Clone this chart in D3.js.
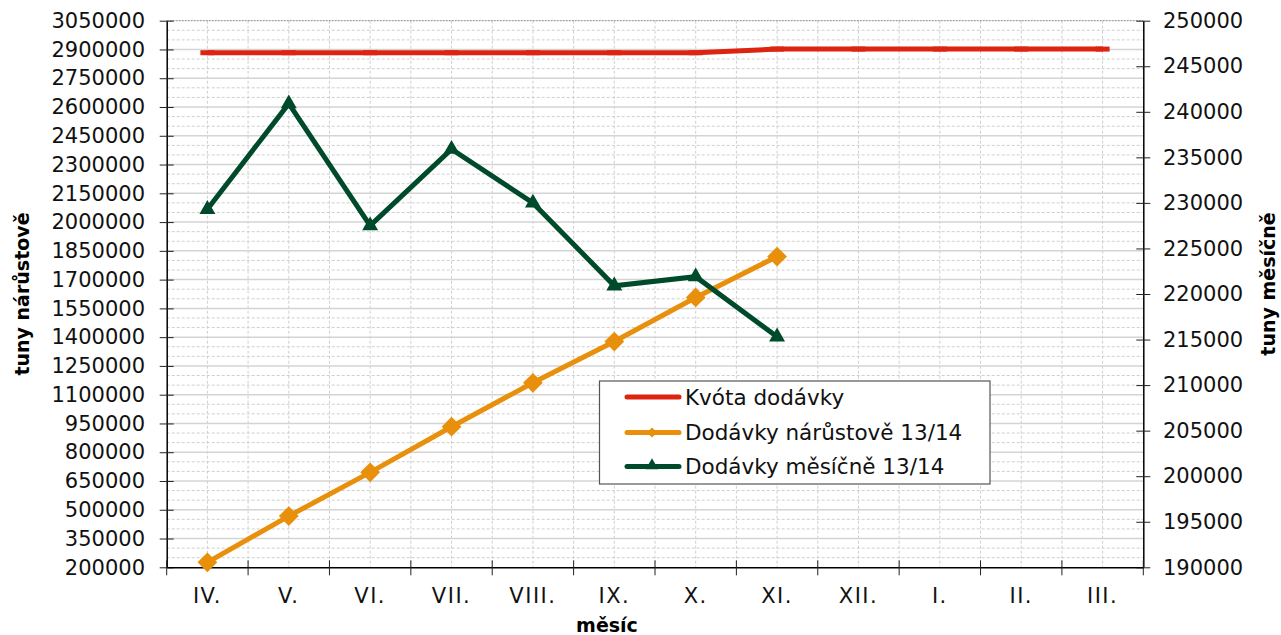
<!DOCTYPE html>
<meta charset="utf-8">
<style>
body { margin: 0; background: #fff; }
svg { font-family: "DejaVu Sans", Verdana, sans-serif; }
.axis .domain { stroke: #000; stroke-width: 1.5; }
.axis line { stroke: #222; }
.axis text { fill: #111; }
</style>
<svg width="1281" height="635"></svg>
<script src="https://d3js.org/d3.v7.min.js"></script>
<script>

// months of the season 13/14
var months = ["IV.", "V.", "VI.", "VII.", "VIII.", "IX.", "X.", "XI.", "XII.", "I.", "II.", "III."];

// Kvóta dodávky (left axis)
var quota = [2883000, 2883000, 2883000, 2883000, 2883000, 2883000, 2883000, 2902000, 2902000, 2902000, 2902000, 2902000];

// Dodávky nárůstově 13/14 (left axis), IV. - XI.
var cumulative = [226000, 467000, 695000, 933000, 1162000, 1377000, 1607000, 1820000];

// Dodávky měsíčně 13/14 (right axis), IV. - XI.
var monthly = [229300, 240900, 227500, 235900, 230000, 220900, 221900, 215300];

var leftTicks = d3.range(200000, 3050001, 150000);
var rightTicks = d3.range(190000, 250001, 5000);

var legendNames = ["Kvóta dodávky", "Dodávky nárůstově 13/14", "Dodávky měsíčně 13/14"];
var colors = ["#dc2410", "#e8900c", "#004a2c"];

var fontFam = "'DejaVu Sans', Verdana, sans-serif";

var svg = d3.select("svg"),
    plotLeft = 166.7, plotRight = 1143.3, plotTop = 20.7, plotBottom = 567.3;

var x = d3.scaleBand().domain(months).range([plotLeft, plotRight]);
var yL = d3.scaleLinear().domain([200000, 3050000]).range([plotBottom, plotTop]);
var yR = d3.scaleLinear().domain([190000, 250000]).range([plotBottom, plotTop]);

// grid: minor dashed every 50000, major solid every 150000
var grid = svg.append("g");
grid.selectAll("line.minor")
  .data(d3.range(250000, 3050000, 50000).filter(function(v) { return (v - 200000) % 150000 !== 0; }))
  .enter().append("line")
    .attr("x1", plotLeft).attr("x2", plotRight)
    .attr("y1", function(d) { return yL(d); }).attr("y2", function(d) { return yL(d); })
    .attr("stroke", "#cfcfcf").attr("stroke-dasharray", "3,2");

// vertical dashed lines at half steps
grid.selectAll("line.vert")
  .data(d3.range(1, 24))
  .enter().append("line")
    .attr("x1", function(i) { return plotLeft + i * x.step() / 2; })
    .attr("x2", function(i) { return plotLeft + i * x.step() / 2; })
    .attr("y1", plotTop).attr("y2", plotBottom)
    .attr("stroke", "#cfcfcf").attr("stroke-dasharray", "3,2");

grid.selectAll("line.major")
  .data(leftTicks.slice(1, -1))
  .enter().append("line")
    .attr("x1", plotLeft).attr("x2", plotRight)
    .attr("y1", function(d) { return yL(d); }).attr("y2", function(d) { return yL(d); })
    .attr("stroke", "#d4d4d4").attr("stroke-width", 1.5);

// top border
grid.append("line")
  .attr("x1", plotLeft).attr("x2", plotRight).attr("y1", plotTop).attr("y2", plotTop)
  .attr("stroke", "#888").attr("stroke-dasharray", "2,1");

// left axis
var gL = svg.append("g").attr("class", "axis")
    .attr("transform", "translate(" + plotLeft + ",0)")
    .call(d3.axisLeft(yL).tickValues(leftTicks).tickFormat(d3.format("d")).tickSize(7).tickPadding(14.7).tickSizeOuter(0))
    .attr("font-family", fontFam).attr("font-size", 21);
gL.selectAll(".tick line").attr("x1", 7);

// right axis
var gR = svg.append("g").attr("class", "axis")
    .attr("transform", "translate(" + plotRight + ",0)")
    .call(d3.axisRight(yR).tickValues(rightTicks).tickFormat(d3.format("d")).tickSize(7).tickPadding(12.7).tickSizeOuter(0))
    .attr("font-family", fontFam).attr("font-size", 21);
gR.selectAll(".tick line").attr("x1", -7);

// bottom axis (labels at centers, ticks at boundaries)
var gB = svg.append("g").attr("class", "axis")
    .attr("transform", "translate(0," + plotBottom + ")")
    .call(d3.axisBottom(x).tickSize(0).tickPadding(20.5).tickSizeOuter(0))
    .attr("font-family", fontFam).attr("font-size", 21);
gB.selectAll("text").attr("letter-spacing", 1.5);
gB.selectAll("line.bound")
  .data(d3.range(0, 13))
  .enter().append("line")
    .attr("class", "bound")
    .attr("x1", function(i) { return plotLeft + i * x.step(); })
    .attr("x2", function(i) { return plotLeft + i * x.step(); })
    .attr("y1", -7).attr("y2", 8)
    .attr("stroke", "#222");

function cx(i) { return x(months[i]) + x.bandwidth() / 2; }

// Kvóta dodávky
svg.append("path")
  .datum(quota)
  .attr("fill", "none").attr("stroke", colors[0]).attr("stroke-width", 5)
  .attr("d", d3.line().x(function(d, i) { return cx(i); }).y(function(d) { return yL(d); }));
svg.selectAll("rect.q")
  .data(quota)
  .enter().append("rect")
    .attr("x", function(d, i) { return cx(i) - 7; })
    .attr("y", function(d) { return yL(d) - 2.5; })
    .attr("width", 14).attr("height", 5)
    .attr("fill", colors[0]);

// Dodávky nárůstově
svg.append("path")
  .datum(cumulative)
  .attr("fill", "none").attr("stroke", colors[1]).attr("stroke-width", 5)
  .attr("d", d3.line().x(function(d, i) { return cx(i); }).y(function(d) { return yL(d); }));
svg.selectAll("path.dia")
  .data(cumulative)
  .enter().append("path")
    .attr("transform", function(d, i) { return "translate(" + cx(i) + "," + yL(d) + ") rotate(45)"; })
    .attr("d", d3.symbol(d3.symbolSquare, 196))
    .attr("fill", colors[1]);

// Dodávky měsíčně
svg.append("path")
  .datum(monthly)
  .attr("fill", "none").attr("stroke", colors[2]).attr("stroke-width", 5)
  .attr("d", d3.line().x(function(d, i) { return cx(i); }).y(function(d) { return yR(d); }));
svg.selectAll("path.tri")
  .data(monthly)
  .enter().append("path")
    .attr("transform", function(d, i) { return "translate(" + cx(i) + "," + yR(d) + ")"; })
    .attr("d", d3.symbol(d3.symbolTriangle, 110))
    .attr("fill", colors[2]);

// axis titles
svg.append("text")
  .attr("transform", "translate(29,294) rotate(-90)")
  .attr("text-anchor", "middle").attr("font-weight", "bold").attr("font-size", 19)
  .text("tuny nárůstově");
svg.append("text")
  .attr("transform", "translate(1275,284) rotate(-90)")
  .attr("text-anchor", "middle").attr("font-weight", "bold").attr("font-size", 19)
  .text("tuny měsíčně");
svg.append("text")
  .attr("x", 607).attr("y", 632)
  .attr("text-anchor", "middle").attr("font-weight", "bold").attr("font-size", 19)
  .text("měsíc");

// legend
var lg = svg.append("g");
lg.append("rect")
  .attr("x", 599.5).attr("y", 381).attr("width", 390.5).attr("height", 103)
  .attr("fill", "#fff").attr("stroke", "#555").attr("stroke-width", 1.2);
var rows = lg.selectAll("g.row")
  .data(legendNames)
  .enter().append("g")
    .attr("transform", function(d, i) { return "translate(0," + [397, 432.5, 466.5][i] + ")"; });
rows.append("line")
  .attr("x1", 627).attr("x2", 679)
  .attr("stroke", function(d, i) { return colors[i]; })
  .attr("stroke-width", 5).attr("stroke-linecap", "round");
rows.filter(function(d, i) { return i === 1; }).append("path")
  .attr("transform", "translate(652,0) rotate(45)")
  .attr("d", d3.symbol(d3.symbolSquare, 50))
  .attr("fill", colors[1]);
rows.filter(function(d, i) { return i === 2; }).append("path")
  .attr("transform", "translate(652,-1)")
  .attr("d", d3.symbol(d3.symbolTriangle, 70))
  .attr("fill", colors[2]);
rows.append("text")
  .attr("x", 685).attr("dy", "0.35em")
  .attr("font-size", 21.5).attr("fill", "#111")
  .text(function(d) { return d; });

</script>
